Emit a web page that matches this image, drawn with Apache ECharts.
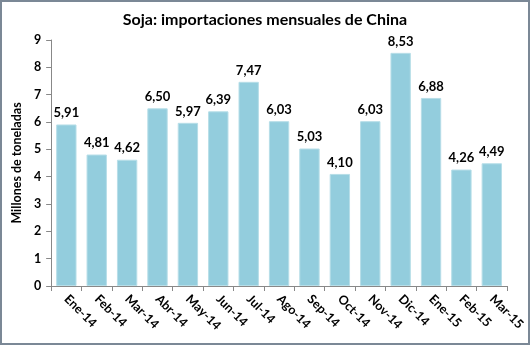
<!DOCTYPE html>
<html><head><meta charset="utf-8">
<script src="https://cdn.jsdelivr.net/npm/echarts@6/dist/echarts.min.js"></script>
<style>html,body{margin:0;padding:0;background:#fff}
#c{width:530px;height:345px;box-sizing:border-box;border:2px solid #7b8896;}</style>
</head><body><div id="c"></div>
<script>
const categories = ["Ene-14","Feb-14","Mar-14","Abr-14","May-14","Jun-14","Jul-14","Ago-14","Sep-14","Oct-14","Nov-14","Dic-14","Ene-15","Feb-15","Mar-15"];
const values = [5.91,4.81,4.62,6.50,5.97,6.39,7.47,6.03,5.03,4.10,6.03,8.53,6.88,4.26,4.49];
const yTicks = [0,1,2,3,4,5,6,7,8,9];
const title = "Soja: importaciones mensuales de China";
const yName = "Millones de toneladas";
const font = "Lato, 'Open Sans', sans-serif";
const chart = echarts.init(document.getElementById('c'), null, {renderer:'canvas'});
chart.setOption({
  animation:false,
  title:{text:title,left:'center',top:5,textStyle:{fontFamily:font,fontSize:16,fontWeight:'bold',color:'#000'}},
  grid:{left:47,right:21,top:38,bottom:57,containLabel:false},
  xAxis:{type:'category',data:categories,
    axisLine:{lineStyle:{color:'#888',width:1}},
    axisTick:{show:true,alignWithLabel:false,lineStyle:{color:'#888'},length:5},
    axisLabel:{rotate:-45,interval:0,fontFamily:font,fontSize:12.5,fontWeight:'bold',color:'#000',margin:11}},
  yAxis:{type:'value',min:yTicks[0],max:yTicks[yTicks.length-1],interval:1,
    name:yName,nameLocation:'middle',nameGap:28,nameRotate:90,
    nameTextStyle:{fontFamily:font,fontSize:12.5,fontWeight:'bold',color:'#000'},
    axisLine:{show:true,lineStyle:{color:'#888'}},
    axisTick:{show:true,inside:false,length:5,lineStyle:{color:'#888'}},
    splitLine:{show:false},
    axisLabel:{fontFamily:font,fontSize:12.5,fontWeight:'bold',color:'#000',margin:10}},
  series:[{type:'bar',data:values,barCategoryGap:'33%',
    itemStyle:{color:'#93CDDD',borderColor:'#B7DEE8',borderWidth:1},
    label:{show:true,position:'top',distance:5,fontFamily:font,fontSize:13,fontWeight:'bold',color:'#000',
      formatter:p=>p.value.toFixed(2).replace('.',',')}}]
});
</script></body></html>
